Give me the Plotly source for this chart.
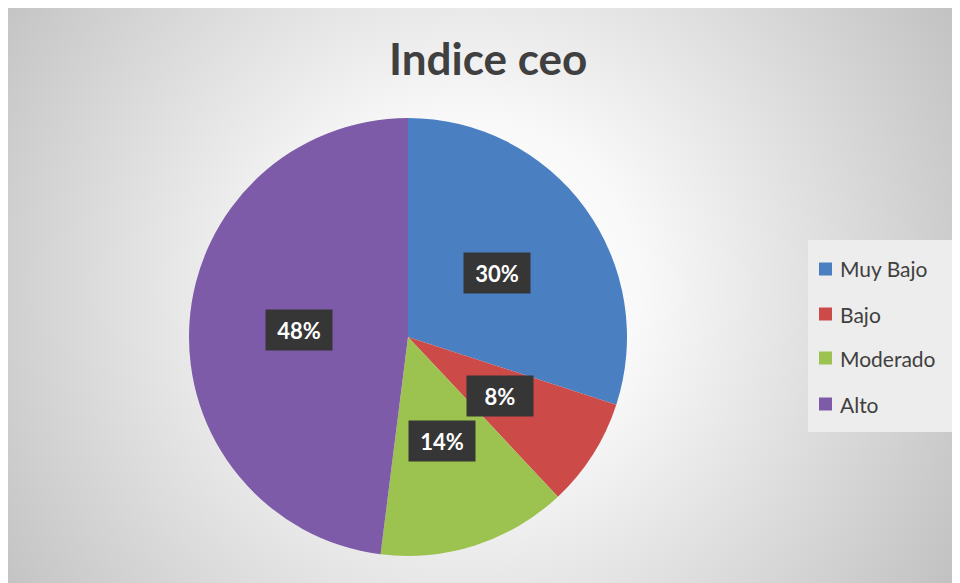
import base64
import math
import plotly.graph_objects as go

# ---- data ----
categories = ["Muy Bajo", "Bajo", "Moderado", "Alto"]
values = [30, 8, 14, 48]
label_texts = ["30%", "8%", "14%", "48%"]
title_text = "Indice ceo"

# ---- style ----
colors = ["#4A7FC2", "#CC4B48", "#9CC24F", "#7E5BA8"]
W, H = 960, 583
OFF = 8  # browser body margin
FONT = "Lato"
TXT = "#404040"

def px(x):
    return (x - OFF) / W

def py(y):
    return 1 - (y - OFF) / H

# pie geometry (screen pixels)
cx, cy, R = 408, 337, 219

# gradient background via SVG image (figure pixel space)
gcx, gcy = 470 - OFF, 290 - OFF
svg = f'''<svg xmlns="http://www.w3.org/2000/svg" width="{W}" height="{H}" viewBox="0 0 {W} {H}">
<defs><radialGradient id="g" gradientUnits="userSpaceOnUse" cx="{gcx}" cy="{gcy}" r="560">
<stop offset="0" stop-color="#ffffff"/><stop offset="0.3" stop-color="#f9f9f9"/>
<stop offset="1" stop-color="#c2c2c2"/></radialGradient></defs>
<rect x="0" y="0" width="{W}" height="{H}" fill="url(#g)"/>
</svg>'''
src = "data:image/svg+xml;base64," + base64.b64encode(svg.encode()).decode()

fig = go.Figure()
fig.add_trace(go.Pie(
    labels=categories, values=values, sort=False, direction="clockwise",
    rotation=0, marker=dict(colors=colors, line=dict(width=0)),
    textinfo="none", hoverinfo="label+percent", showlegend=False,
    domain=dict(x=[px(cx - R), px(cx + R)], y=[py(cy + R), py(cy - R)]),
))

annotations = []
total = sum(values)
cum = 0
for v, t in zip(values, label_texts):
    mid = (cum + v / 2) / total * 2 * math.pi
    cum += v
    r = 0.5 * R
    lx = cx + r * math.sin(mid)
    ly = cy - r * math.cos(mid)
    annotations.append(dict(
        x=px(lx), y=py(ly), xref="paper", yref="paper", text=f"<b>{t}</b>",
        showarrow=False, bgcolor="#363636", width=64, height=38,
        font=dict(family=FONT, size=22, color="white"),
        xanchor="center", yanchor="middle"))

annotations.append(dict(
    x=px(488), y=py(58), xref="paper", yref="paper", text=f"<b>{title_text}</b>",
    showarrow=False, font=dict(family=FONT, size=44, color=TXT),
    xanchor="center", yanchor="middle"))

shapes = [dict(type="rect", xref="paper", yref="paper", x0=px(808), x1=px(955),
               y0=py(432), y1=py(240), fillcolor="#ededed", line=dict(width=0),
               layer="below")]
leg_y = [269, 314, 358, 404]
for c, name, yy in zip(colors, categories, leg_y):
    shapes.append(dict(type="rect", xref="paper", yref="paper",
                       x0=px(819), x1=px(832), y0=py(yy + 6.5), y1=py(yy - 6.5),
                       fillcolor=c, line=dict(width=0)))
    annotations.append(dict(x=px(838), y=py(yy), xref="paper", yref="paper",
                            text=name, showarrow=False, xanchor="left", yanchor="middle",
                            font=dict(family=FONT, size=21, color=TXT)))

fig.update_layout(
    width=W, height=H, margin=dict(l=0, r=0, t=0, b=0),
    paper_bgcolor="white", plot_bgcolor="white",
    images=[dict(source=src, xref="paper", yref="paper", x=0, y=1, sizex=1, sizey=1,
                 xanchor="left", yanchor="top", sizing="stretch", layer="below")],
    annotations=annotations, shapes=shapes,
)
fig.write_html("out.html")
